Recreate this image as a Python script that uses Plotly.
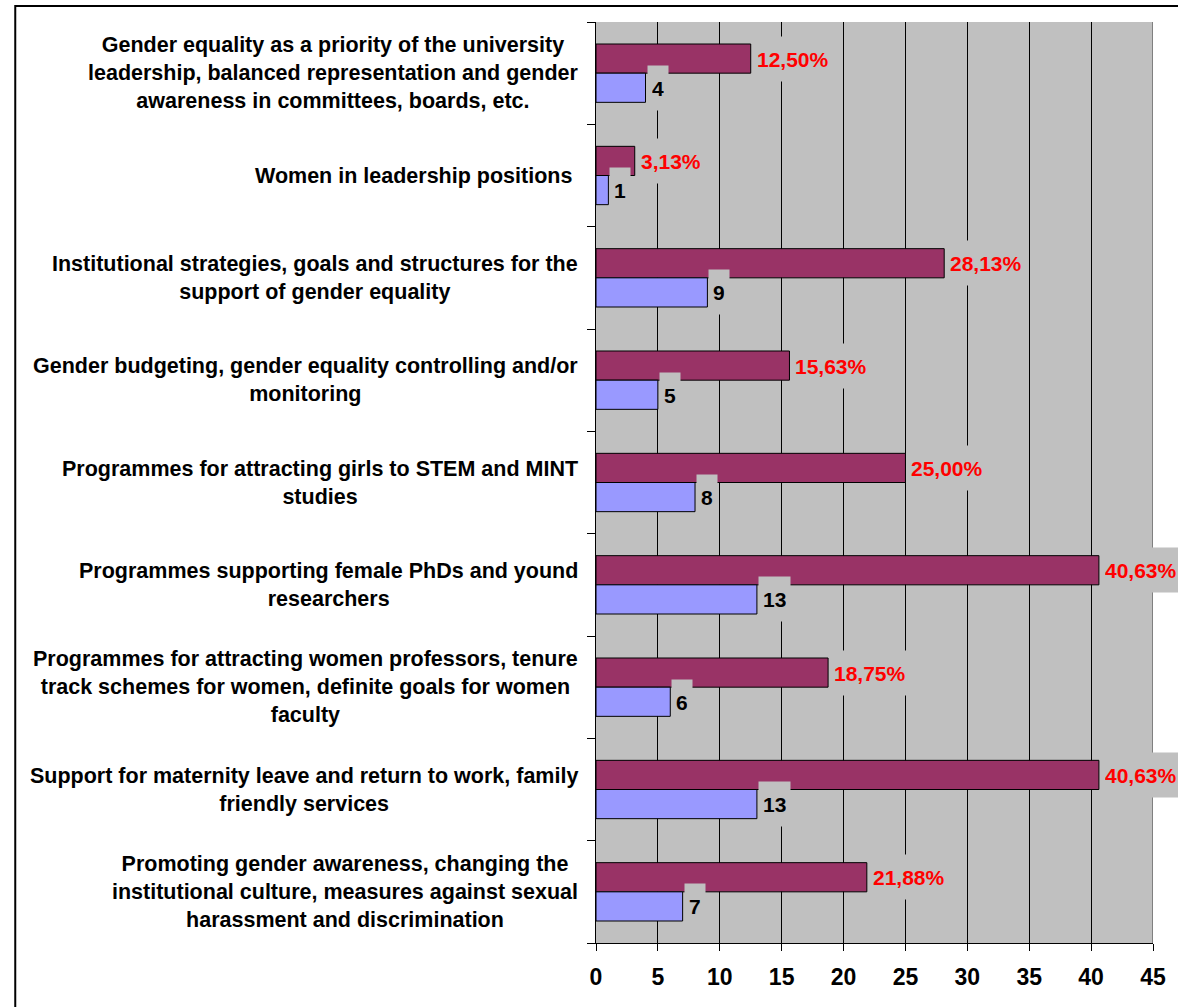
import plotly.graph_objects as go

categories = [
    "Gender equality as a priority of the university<br>leadership, balanced representation and gender<br>awareness in committees, boards, etc.",
    "Women in leadership positions ",
    "Institutional strategies, goals and structures for the<br>support of gender equality",
    "Gender budgeting, gender equality controlling and/or<br>monitoring",
    "Programmes for attracting girls to STEM and MINT<br>studies",
    "Programmes supporting female PhDs and yound<br>researchers",
    "Programmes for attracting women professors, tenure<br>track schemes for women, definite goals for women<br>faculty",
    "Support for maternity leave and return to work, family<br>friendly services",
    "Promoting gender awareness, changing the<br>institutional culture, measures against sexual<br>harassment and discrimination",
]
percent_values = [12.50, 3.13, 28.13, 15.63, 25.00, 40.63, 18.75, 40.63, 21.88]
percent_labels = ["12,50%", "3,13%", "28,13%", "15,63%", "25,00%", "40,63%", "18,75%", "40,63%", "21,88%"]
count_values = [4, 1, 9, 5, 8, 13, 6, 13, 7]
count_labels = ["4", "1", "9", "5", "8", "13", "6", "13", "7"]
x_ticks = [0, 5, 10, 15, 20, 25, 30, 35, 40, 45]

FONT = "Liberation Sans, Arial, sans-serif"
ids = list(range(len(categories)))

fig = go.Figure()
fig.add_trace(go.Bar(
    y=ids, x=percent_values, orientation="h", name="percent",
    marker=dict(color="#993366", line=dict(color="black", width=1)),
))
fig.add_trace(go.Bar(
    y=ids, x=count_values, orientation="h", name="count",
    marker=dict(color="#9999FF", line=dict(color="black", width=1)),
))

bargap = 0.43
half = (1 - bargap) / 4
annotations = []
for i, cat in enumerate(categories):
    annotations.append(dict(
        x=0, y=i, xref="x", yref="y", text=cat, showarrow=False,
        xanchor="right", yanchor="middle", align="center", xshift=-16,
        font=dict(family=FONT, size=21.5, color="black", weight="bold"),
    ))
for i in ids:
    annotations.append(dict(
        x=percent_values[i], y=i - half, xref="x", yref="y", text=percent_labels[i],
        showarrow=False, xanchor="left", yanchor="middle", xshift=1,
        bgcolor="#C0C0C0", height=36, borderpad=4,
        font=dict(family=FONT, size=21, color="#FF0000", weight="bold"),
    ))
    annotations.append(dict(
        x=count_values[i], y=i + half, xref="x", yref="y", text=count_labels[i],
        showarrow=False, xanchor="left", yanchor="middle", xshift=1,
        bgcolor="#C0C0C0", height=36, borderpad=4,
        font=dict(family=FONT, size=21, color="black", weight="bold"),
    ))

fig.update_layout(
    width=1178, height=1007,
    margin=dict(l=596, r=19, t=22, b=64),
    paper_bgcolor="white", plot_bgcolor="#C0C0C0",
    barmode="group", bargap=bargap, bargroupgap=0,
    showlegend=False,
    annotations=annotations,
    shapes=[
        dict(type="line", xref="x", yref="paper", x0=45, x1=45, y0=0, y1=1,
             line=dict(color="#808080", width=2), layer="above"),
        dict(type="rect", xref="paper", yref="paper",
             x0=(9 - 596) / 563, x1=(1200 - 596) / 563,
             y0=(943 - 1030) / 921, y1=(943 - 6) / 921,
             line=dict(color="black", width=2), fillcolor="rgba(0,0,0,0)", layer="above"),
    ],
)
fig.update_xaxes(
    range=[0, 45], tickvals=x_ticks, ticktext=[str(t) for t in x_ticks],
    showgrid=True, gridcolor="black", gridwidth=1, zeroline=False,
    showline=True, linecolor="black", linewidth=1,
    ticks="outside", ticklen=7, tickcolor="black", tickwidth=1,
    ticklabelstandoff=6,
    tickfont=dict(family=FONT, size=23, color="black", weight="bold"),
    fixedrange=True,
)
fig.update_yaxes(
    type="category", autorange="reversed",
    tickvals=ids, ticktext=[""] * len(ids), tickson="boundaries",
    ticks="outside", ticklen=8, tickcolor="black", tickwidth=1,
    showline=True, linecolor="black", linewidth=1,
    showgrid=False, zeroline=False, fixedrange=True,
)
fig.write_html("out.html")
